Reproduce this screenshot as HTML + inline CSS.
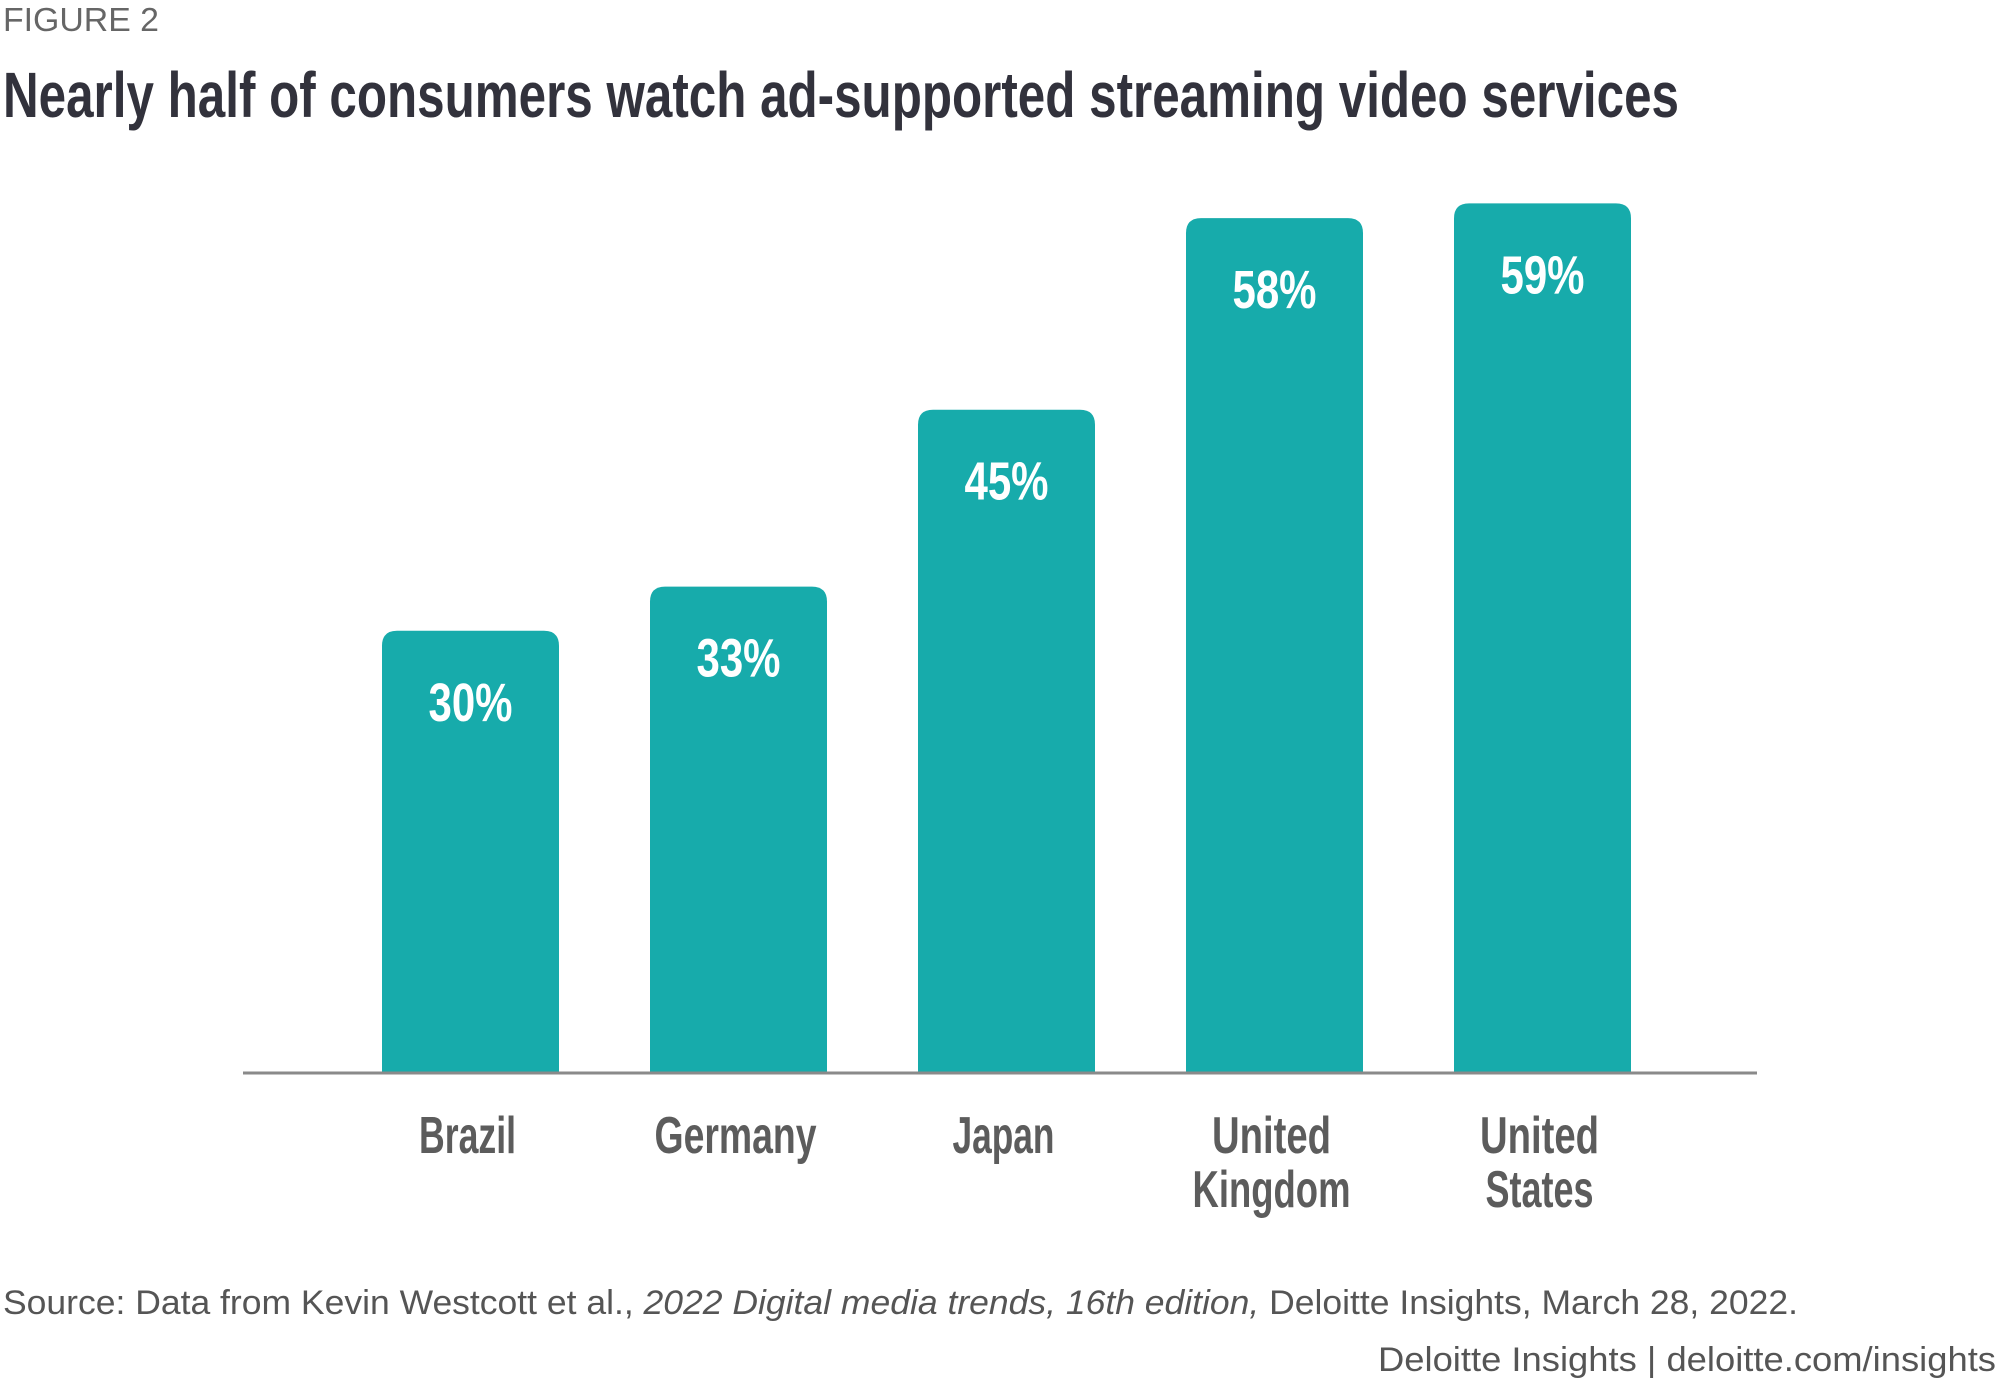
<!DOCTYPE html>
<html><head><meta charset="utf-8"><style>
html,body{margin:0;padding:0;background:#fff;}
svg{display:block;}
text{font-family:"Liberation Sans Narrow","Liberation Sans",sans-serif;}
</style></head><body>
<svg id="chart" width="2000" height="1386" viewBox="0 0 2000 1386" xmlns="http://www.w3.org/2000/svg">
<text x="3" y="31" font-size="33" fill="#666" textLength="156" lengthAdjust="spacingAndGlyphs" style="font-family:'Liberation Sans',sans-serif">FIGURE 2</text>
<text x="3" y="117" font-size="64" font-weight="bold" fill="#32323c" textLength="1676" lengthAdjust="spacingAndGlyphs">Nearly half of consumers watch ad-supported streaming video services</text>
<line x1="243" y1="1073" x2="1757" y2="1073" stroke="#8a8a8a" stroke-width="3"/>
<g id="bars"></g>
<text x="3" y="1314" font-size="34" fill="#555" textLength="1795" lengthAdjust="spacingAndGlyphs" style="font-family:'Liberation Sans',sans-serif">Source: Data from Kevin Westcott et al., <tspan font-style="italic">2022 Digital media trends, 16th edition,</tspan> Deloitte Insights, March 28, 2022.</text>
<text x="1378" y="1371" font-size="34" fill="#555" textLength="618" lengthAdjust="spacingAndGlyphs" style="font-family:'Liberation Sans',sans-serif">Deloitte Insights | deloitte.com/insights</text>
</svg>
<script>
const categories = ["Brazil","Germany","Japan","United Kingdom","United States"];
const values = [30,33,45,58,59];
const valueLabels = ["30%","33%","45%","58%","59%"];
const categoryLines = [["Brazil"],["Germany"],["Japan"],["United","Kingdom"],["United","States"]];

const NS = "http://www.w3.org/2000/svg";
const baseY = 1073, pxPerUnit = 14.74, firstX = 382, step = 268, barW = 177, r = 15;
const labelWidth = {Brazil:97, Germany:162, Japan:102, United:119, Kingdom:158, States:108};
function xPos(i){ return firstX + i*step; }
function yPos(v){ return baseY - v*pxPerUnit; }
const g = document.getElementById('bars');
categories.forEach((c,i)=>{
  const x = xPos(i), y = yPos(values[i]);
  const p = document.createElementNS(NS,'path');
  p.setAttribute('d',`M${x},${baseY-1.5} L${x},${y+r} Q${x},${y} ${x+r},${y} L${x+barW-r},${y} Q${x+barW},${y} ${x+barW},${y+r} L${x+barW},${baseY-1.5} Z`);
  p.setAttribute('fill','#17abab');
  
  
  g.appendChild(p);
  const t = document.createElementNS(NS,'text');
  t.setAttribute('x', x+barW/2);
  t.setAttribute('y', y+90);
  t.setAttribute('text-anchor','middle');
  t.setAttribute('font-size','54');
  t.setAttribute('font-weight','bold');
  t.setAttribute('fill','#fff');
  t.setAttribute('textLength','84');
  t.setAttribute('lengthAdjust','spacingAndGlyphs');
  t.textContent = valueLabels[i];
  
  
  g.appendChild(t);
  categoryLines[i].forEach((ln,j)=>{
    const ct = document.createElementNS(NS,'text');
    ct.setAttribute('x', x+barW/2 - 3);
    ct.setAttribute('y', 1153 + j*54);
    ct.setAttribute('text-anchor','middle');
    ct.setAttribute('font-size','52');
    ct.setAttribute('font-weight','bold');
    ct.setAttribute('fill','#5c5c5c');
    ct.setAttribute('textLength', String(labelWidth[ln] || ln.length*17));
    ct.setAttribute('lengthAdjust','spacingAndGlyphs');
    ct.textContent = ln;
    
    
    g.appendChild(ct);
  });
});
</script>
</body></html>
